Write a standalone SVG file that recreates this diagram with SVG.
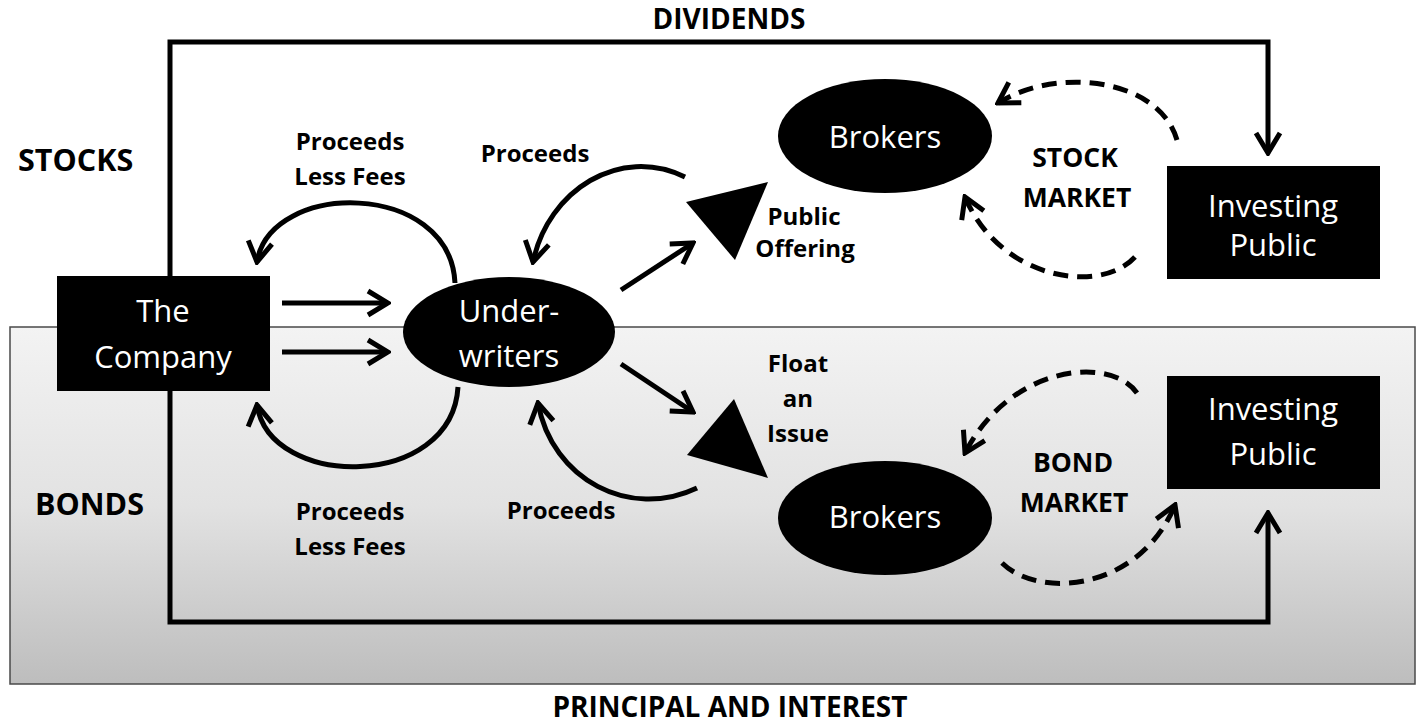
<svg xmlns="http://www.w3.org/2000/svg" width="1419" height="724" viewBox="0 0 1419 724">
<defs>
<linearGradient id="bondsGrad" x1="0" y1="0" x2="0" y2="1">
<stop offset="0" stop-color="#f3f3f3"/>
<stop offset="0.5" stop-color="#e2e2e2"/>
<stop offset="1" stop-color="#bdbdbd"/>
</linearGradient>
<marker id="arr" viewBox="0 0 26 30" refX="23" refY="15" markerWidth="26" markerHeight="30" markerUnits="userSpaceOnUse" orient="auto">
<path d="M3,3 L23,15 L3,27" fill="none" stroke="#000" stroke-width="5" stroke-dasharray="none"/>
</marker>
</defs>
<style>
.lbl{font-family:"Open Sans","Noto Sans","DejaVu Sans",sans-serif;font-weight:bold;fill:#000;text-anchor:middle;font-size:24px}
.cap{font-size:26.5px}
.title{font-size:28px}
.side{font-size:30.5px;text-anchor:start}
.node{font-family:"Open Sans","Noto Sans","DejaVu Sans",sans-serif;fill:#fff;font-size:31px;text-anchor:middle}
.ln{fill:none;stroke:#000;stroke-width:5}
.dash{fill:none;stroke:#000;stroke-width:5;stroke-dasharray:15 9}
</style>
<rect width="1419" height="724" fill="#fff"/>
<g id="bonds-region">
<rect x="10" y="327" width="1405" height="357" fill="url(#bondsGrad)" stroke="#4a4a4a" stroke-width="1.5"/>
</g>
<g id="connectors">
<polyline class="ln" points="170,276 170,42 1268,42 1268,153" marker-end="url(#arr)"/>
<polyline class="ln" points="170,391 170,622 1268,622 1268,513" marker-end="url(#arr)"/>
<line class="ln" x1="282" y1="303" x2="388" y2="303" marker-end="url(#arr)"/>
<line class="ln" x1="282" y1="352" x2="388" y2="352" marker-end="url(#arr)"/>
<line class="ln" x1="621" y1="290" x2="693" y2="243" marker-end="url(#arr)"/>
<line class="ln" x1="621" y1="364" x2="693" y2="412" marker-end="url(#arr)"/>
<path class="ln" d="M455,283 C450,180 270,180 257,262" marker-end="url(#arr)"/>
<path class="ln" d="M458,387 C452,490 270,490 257,405" marker-end="url(#arr)"/>
<path class="ln" d="M685,177 C620,145 548,190 533,262" marker-end="url(#arr)"/>
<path class="ln" d="M697,488 C630,520 552,480 538,403" marker-end="url(#arr)"/>
<path class="dash" d="M1177,140 C1160,80 1060,65 998,103" marker-end="url(#arr)"/>
<path class="dash" d="M1135,257 C1100,295 1000,280 965,197" marker-end="url(#arr)"/>
<path class="dash" d="M1137,393 C1110,355 1010,365 965,453" marker-end="url(#arr)"/>
<path class="dash" d="M1002,563 C1040,600 1140,590 1175,505" marker-end="url(#arr)"/>
</g>
<g id="company">
<rect x="57" y="276" width="213" height="115" fill="#000"/>
<text class="node" x="163" y="322">The</text>
<text class="node" x="163" y="368">Company</text>
</g>
<g id="underwriters">
<ellipse cx="509" cy="332" rx="106" ry="55" fill="#000"/>
<text class="node" x="509" y="322">Under-</text>
<text class="node" x="509" y="367">writers</text>
</g>
<g id="public-offering-triangle">
<polygon points="686,202 768,182 735,260" fill="#000"/>
</g>
<g id="float-issue-triangle">
<polygon points="734,399 687,455 768,478" fill="#000"/>
</g>
<g id="brokers-stock">
<ellipse cx="885" cy="136" rx="107" ry="57" fill="#000"/>
<text class="node" x="885" y="148">Brokers</text>
</g>
<g id="brokers-bond">
<ellipse cx="885" cy="518" rx="107" ry="57" fill="#000"/>
<text class="node" x="885" y="528">Brokers</text>
</g>
<g id="investing-public-stock">
<rect x="1167" y="166" width="213" height="113" fill="#000"/>
<text class="node" x="1273" y="217">Investing</text>
<text class="node" x="1273" y="256">Public</text>
</g>
<g id="investing-public-bond">
<rect x="1167" y="376" width="213" height="113" fill="#000"/>
<text class="node" x="1273" y="420">Investing</text>
<text class="node" x="1273" y="465">Public</text>
</g>
<g id="labels">
<text class="lbl title" x="729" y="29">DIVIDENDS</text>
<text class="lbl title" x="730" y="717">PRINCIPAL AND INTEREST</text>
<text class="lbl side" x="18" y="171">STOCKS</text>
<text class="lbl side" x="35" y="515">BONDS</text>
<text class="lbl" x="350" y="150">Proceeds</text>
<text class="lbl" x="350" y="185">Less Fees</text>
<text class="lbl" x="535" y="162">Proceeds</text>
<text class="lbl" x="804" y="225">Public</text>
<text class="lbl" x="805" y="257">Offering</text>
<text class="lbl cap" x="1075" y="167">STOCK</text>
<text class="lbl cap" x="1077" y="207">MARKET</text>
<text class="lbl" x="798" y="372">Float</text>
<text class="lbl" x="798" y="407">an</text>
<text class="lbl" x="798" y="442">Issue</text>
<text class="lbl cap" x="1073" y="472">BOND</text>
<text class="lbl cap" x="1074" y="512">MARKET</text>
<text class="lbl" x="561" y="519">Proceeds</text>
<text class="lbl" x="350" y="520">Proceeds</text>
<text class="lbl" x="350" y="555">Less Fees</text>
</g>
</svg>
